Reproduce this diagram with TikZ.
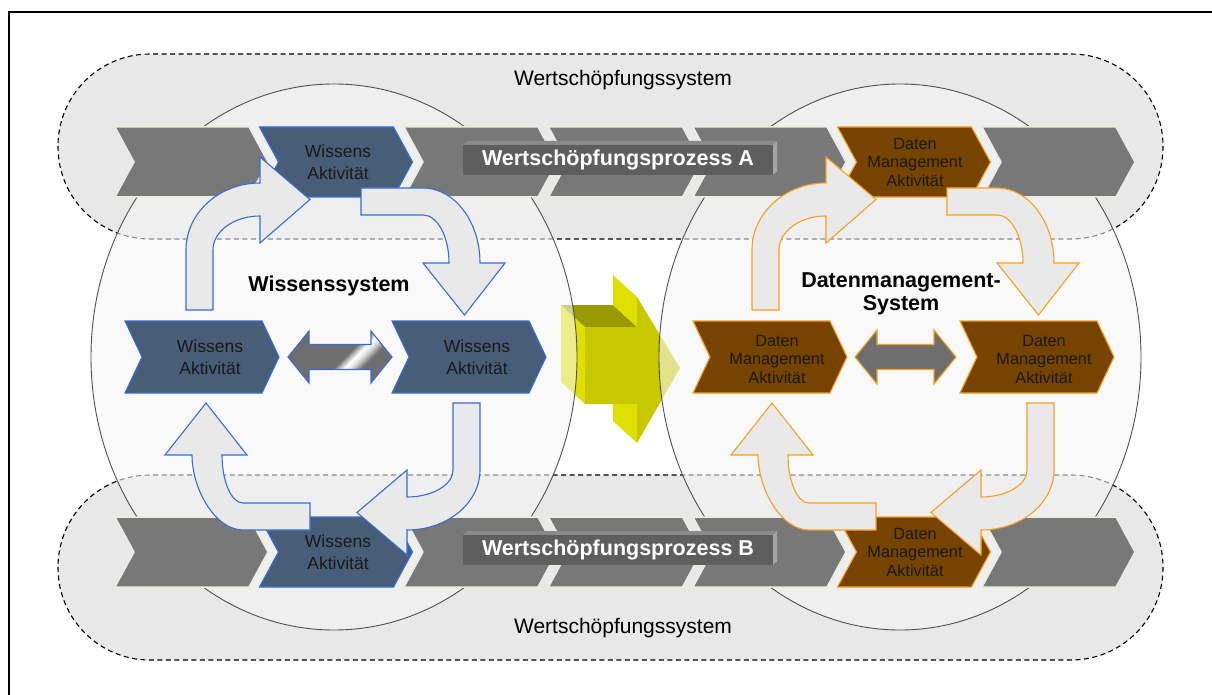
\documentclass[tikz,border=0pt]{standalone}
\usepackage{fontspec}
\setmainfont{Liberation Sans}
\usetikzlibrary{shapes.geometric}

\definecolor{bandgray}{RGB}{232,232,232}
\definecolor{ringfill}{RGB}{246,246,246}
\definecolor{ringline}{RGB}{80,80,80}
\definecolor{chevgray}{RGB}{120,120,120}
\definecolor{gapline}{RGB}{236,236,226}
\definecolor{wblue}{RGB}{72,94,120}
\definecolor{wedge}{RGB}{58,108,214}
\definecolor{dbrown}{RGB}{118,68,0}
\definecolor{dedge}{RGB}{247,160,30}
\definecolor{loopfill}{RGB}{233,233,233}
\definecolor{dgray}{RGB}{110,110,110}
\definecolor{boxface}{RGB}{94,94,94}
\definecolor{bevtop}{RGB}{138,138,138}
\definecolor{bevside}{RGB}{165,165,165}
\definecolor{yfront}{RGB}{200,200,0}
\definecolor{ybright}{RGB}{224,224,0}
\definecolor{ydark}{RGB}{154,154,0}

\pgfdeclarehorizontalshading{shine}{100bp}{color(0bp)=(dgray); color(52bp)=(dgray); color(57bp)=(white); color(60bp)=(white!80!dgray); color(65bp)=(dgray); color(100bp)=(dgray)}

% chevron: [style] left x, top y, width, height, notch depth
\newcommand\chevron[6][]{%
  \path[#1] (#2,#3) -- ++(#4,0) -- ++(#6,#5/2) -- ++(-#6,#5/2) -- ++(-#4,0) -- ++(#6,-#5/2) -- cycle;}

% bevelled label plate, argument: top y of the front face
\newcommand\procplate[1]{%
  \fill[bevtop] (463,#1) -- (467,#1-4) -- (777,#1-4) -- (773,#1) -- cycle;
  \fill[bevside] (773,#1) -- (777,#1-4) -- (777,#1+26) -- (773,#1+30) -- cycle;
  \fill[boxface] (463,#1) rectangle (773,#1+30);}

\begin{document}
\begin{tikzpicture}[x=1pt,y=-1pt,
  bandbox/.style={fill=bandgray, draw=black, dash pattern=on 5pt off 3.5pt, line width=1.1pt, rounded corners=92pt},
  sysring/.style={ellipse, draw=ringline, line width=0.9pt, fill=ringfill, fill opacity=0.57, inner sep=0pt},
  procchev/.style={fill=chevgray, draw=gapline, line width=1.5pt},
  wchev/.style={fill=wblue, draw=wedge, line width=1.1pt},
  dchev/.style={fill=dbrown, draw=dedge, line width=1.1pt},
  wloop/.style={fill=loopfill, draw=wedge, line width=1.1pt, line join=miter},
  dloop/.style={fill=loopfill, draw=dedge, line width=1.1pt, line join=miter},
  bandtext/.style={font=\fontsize{21}{25}\selectfont},
  systext/.style={font=\bfseries\fontsize{21.5}{23}\selectfont, align=center},
  acttext/.style={font=\fontsize{17.5}{22}\selectfont, align=center, text=black!90},
  dacttext/.style={font=\fontsize{16.3}{18.5}\selectfont, align=center, text=black!90},
  proctext/.style={font=\bfseries\fontsize{21.5}{25}\selectfont, text=white},
]
\useasboundingbox (0,0) rectangle (1212,695);
\fill[white] (0,0) rectangle (1212,695);

% page frame (top and left edges)
\draw[line width=2pt] (9,695) -- (9,12) -- (1212,12);

% value-creation system bands
\path[bandbox] (58,54) rectangle (1163,239);
\path[bandbox] (58,475) rectangle (1163,660);

% 3D transfer arrow between the two systems
\fill[ybright] (561,305) -- (585,327) -- (585,404) -- (561,382) -- cycle;
\fill[ydark] (561,305) -- (613,305) -- (637,327) -- (585,327) -- cycle;
\fill[ybright] (613,275) -- (637,297) -- (637,327) -- (613,305) -- cycle;
\fill[ybright] (613,404) -- (637,404) -- (637,443) -- (613,421) -- cycle;
\fill[yfront] (585,327) -- (637,327) -- (637,297) -- (680,368) -- (637,443) -- (637,404) -- (585,404) -- cycle;

% the two systems
\node[sysring, minimum width=486pt, minimum height=546pt] (wsys) at (334,357) {};
\node[sysring, minimum width=482pt, minimum height=546pt] (dsys) at (900,357) {};

\node[bandtext] (bandtop) at (623,80) {Wertschöpfungssystem};
\node[bandtext] (bandbot) at (623,628) {Wertschöpfungssystem};

% process A
\chevron[procchev]{115}{127}{134}{70}{19}
\chevron[procchev]{404}{127}{134}{70}{19}
\chevron[procchev]{548.5}{127}{134}{70}{19}
\chevron[procchev]{693}{127}{134}{70}{19}
\chevron[procchev]{982}{127}{134}{70}{19}
\chevron[wchev]{259.5}{127}{134}{70}{19}
\chevron[dchev]{837.5}{127}{134}{70}{19}
\procplate{145}
\node[proctext] (procA) at (618,160) {Wertschöpfungsprozess A};
\node[acttext] (wa1) at (338,162) {Wissens\\Aktivität};
\node[dacttext] (da1) at (915,162) {Daten\\Management\\Aktivität};

% process B
\chevron[procchev]{115}{517}{134}{70}{19}
\chevron[procchev]{404}{517}{134}{70}{19}
\chevron[procchev]{548.5}{517}{134}{70}{19}
\chevron[procchev]{693}{517}{134}{70}{19}
\chevron[procchev]{982}{517}{134}{70}{19}
\chevron[wchev]{259.5}{517}{134}{70}{19}
\chevron[dchev]{837.5}{517}{134}{70}{19}
\procplate{535}
\node[proctext] (procB) at (618,550) {Wertschöpfungsprozess B};
\node[acttext] (wa4) at (338,552) {Wissens\\Aktivität};
\node[dacttext] (da4) at (915,552) {Daten\\Management\\Aktivität};

% activities inside the systems
\chevron[wchev]{125}{321}{137}{72}{17}
\chevron[wchev]{392}{321}{137}{72}{17}
\chevron[dchev]{693}{321}{137}{72}{17}
\chevron[dchev]{960}{321}{137}{72}{17}
\node[acttext] (wa2) at (210,357) {Wissens\\Aktivität};
\node[acttext] (wa3) at (477,357) {Wissens\\Aktivität};
\node[dacttext] (da2) at (777,359) {Daten\\Management\\Aktivität};
\node[dacttext] (da3) at (1044,359) {Daten\\Management\\Aktivität};

% exchange arrows
\shadedraw[shading=shine, shading angle=-45, draw=wedge, line width=1.1pt]
  (288,357) -- (309,331) -- (309,344.5) -- (371,344.5) -- (371,331) -- (392,357)
  -- (371,383) -- (371,369.5) -- (309,369.5) -- (309,383) -- cycle;
\filldraw[fill=dgray, draw=dedge, line width=1.1pt]
  (855,357) -- (877,330) -- (877,344.5) -- (934,344.5) -- (934,330) -- (956,357)
  -- (934,384) -- (934,369.5) -- (877,369.5) -- (877,384) -- cycle;

% knowledge cycle
\draw[wloop] (186,310) -- (186,250) .. controls (186,213) and (219.1,183) .. (260,183)
  -- (260,157) -- (310,199.5) -- (260,243) -- (260,216)
  .. controls (234,216) and (213,231.2) .. (213,250) -- (213,310) -- cycle;
\draw[wloop] (361,188) -- (423,188) .. controls (454.5,188) and (480,221.6) .. (480,263)
  -- (505,263) -- (464.5,315) -- (423,263) -- (449,263)
  .. controls (449,236.5) and (437.4,215) .. (423,215) -- (361,215) -- cycle;
\draw[wloop] (453,403) -- (480,403) -- (480,470) .. controls (480,503.1) and (447.3,530) .. (407,530)
  -- (407,555) -- (357,512.5) -- (407,470) -- (407,497)
  .. controls (432.4,497) and (453,484.9) .. (453,470) -- cycle;
\draw[wloop] (310,503) -- (310,530) -- (243,530) .. controls (214.8,530) and (192,488.6) .. (192,455)
  -- (165,455) -- (206,403) -- (247,455) -- (222,455)
  .. controls (222,481.5) and (231.4,503) .. (243,503) -- cycle;

% data management cycle
\draw[dloop] (752,310) -- (752,250) .. controls (752,213) and (785.1,183) .. (826,183)
  -- (826,157) -- (876,199.5) -- (826,243) -- (826,216)
  .. controls (800,216) and (779,231.2) .. (779,250) -- (779,310) -- cycle;
\draw[dloop] (947,188) -- (997,188) .. controls (1028.5,188) and (1054,221.6) .. (1054,263)
  -- (1079,263) -- (1038.5,315) -- (997,263) -- (1023,263)
  .. controls (1023,236.5) and (1011.4,215) .. (997,215) -- (947,215) -- cycle;
\draw[dloop] (1027,403) -- (1054,403) -- (1054,470) .. controls (1054,503.1) and (1021.3,530) .. (981,530)
  -- (981,555) -- (931,512.5) -- (981,470) -- (981,497)
  .. controls (1006.4,497) and (1027,484.9) .. (1027,470) -- cycle;
\draw[dloop] (876,503) -- (876,530) -- (809,530) .. controls (780.8,530) and (758,488.6) .. (758,455)
  -- (731,455) -- (772,403) -- (813,455) -- (788,455)
  .. controls (788,481.5) and (797.4,503) .. (809,503) -- cycle;

% system titles
\node[systext] (wtitle) at (329,286) {Wissenssystem};
\node[systext] (dtitle) at (901,294) {Datenmanagement-\\System};
\end{tikzpicture}
\end{document}
